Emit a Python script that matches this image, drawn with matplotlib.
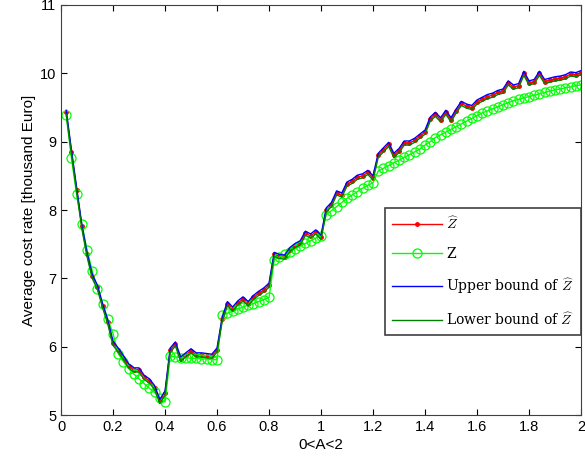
import numpy as np
import matplotlib
matplotlib.use("Agg")
import matplotlib.pyplot as plt

plt.rcParams['font.family'] = ['Liberation Sans', 'DejaVu Sans']
plt.rcParams['mathtext.fontset'] = 'cm'

# A values, 0.02 .. 2.00
a_vals = [round(0.02 * k, 2) for k in range(1, 101)]

# Z (green circles)
z_vals = [9.39, 8.76, 8.23, 7.79, 7.42, 7.11, 6.84, 6.62, 6.40, 6.19,
          5.90, 5.78, 5.68, 5.60, 5.53, 5.46, 5.39, 5.33, 5.25, 5.19,
          5.86, 5.85, 5.84, 5.84, 5.83, 5.83, 5.82, 5.82, 5.81, 5.81,
          6.46, 6.49, 6.52, 6.55, 6.58, 6.61, 6.63, 6.66, 6.69, 6.72,
          7.27, 7.31, 7.35, 7.39, 7.43, 7.47, 7.51, 7.55, 7.59, 7.62,
          7.93, 7.99, 8.05, 8.11, 8.17, 8.22, 8.27, 8.32, 8.36, 8.40,
          8.57, 8.61, 8.65, 8.69, 8.73, 8.77, 8.81, 8.85, 8.89, 8.95,
          9.00, 9.06, 9.10, 9.14, 9.18, 9.22, 9.26, 9.30, 9.34, 9.38,
          9.42, 9.45, 9.48, 9.51, 9.54, 9.57, 9.60, 9.62, 9.64, 9.66,
          9.68, 9.70, 9.72, 9.74, 9.76, 9.77, 9.79, 9.80, 9.82, 9.83]

# Z hat (red dots)
zhat_vals = [9.43, 8.85, 8.30, 7.76, 7.35, 7.03, 6.87, 6.60, 6.36, 6.05,
             5.95, 5.84, 5.72, 5.66, 5.66, 5.55, 5.50, 5.40, 5.20, 5.32,
             5.95, 6.04, 5.82, 5.88, 5.94, 5.88, 5.88, 5.87, 5.86, 5.95,
             6.40, 6.63, 6.55, 6.64, 6.70, 6.63, 6.72, 6.78, 6.83, 6.90,
             7.35, 7.32, 7.31, 7.42, 7.48, 7.52, 7.66, 7.62, 7.68, 7.60,
             8.00, 8.08, 8.25, 8.22, 8.38, 8.42, 8.48, 8.50, 8.55, 8.47,
             8.80, 8.88, 8.96, 8.80, 8.87, 8.98, 8.98, 9.02, 9.08, 9.14,
             9.33, 9.40, 9.32, 9.43, 9.32, 9.45, 9.56, 9.52, 9.50, 9.58,
             9.62, 9.66, 9.68, 9.72, 9.74, 9.86, 9.80, 9.82, 10.00, 9.86,
             9.88, 10.00, 9.88, 9.90, 9.92, 9.93, 9.95, 9.99, 9.98, 10.01]

# upper bound of Z hat (blue)
upper_vals = [9.46, 8.88, 8.33, 7.79, 7.38, 7.06, 6.90, 6.63, 6.39, 6.08,
              5.98, 5.87, 5.75, 5.69, 5.69, 5.58, 5.53, 5.43, 5.23, 5.35,
              5.98, 6.07, 5.85, 5.91, 5.97, 5.91, 5.91, 5.90, 5.89, 5.98,
              6.43, 6.66, 6.58, 6.67, 6.73, 6.66, 6.75, 6.81, 6.86, 6.93,
              7.38, 7.35, 7.34, 7.45, 7.51, 7.55, 7.69, 7.65, 7.71, 7.63,
              8.03, 8.11, 8.28, 8.25, 8.41, 8.45, 8.51, 8.53, 8.58, 8.50,
              8.83, 8.91, 8.99, 8.83, 8.90, 9.01, 9.01, 9.05, 9.11, 9.17,
              9.36, 9.43, 9.35, 9.46, 9.35, 9.48, 9.59, 9.55, 9.53, 9.61,
              9.65, 9.69, 9.71, 9.75, 9.77, 9.89, 9.83, 9.85, 10.03, 9.89,
              9.91, 10.03, 9.91, 9.93, 9.95, 9.96, 9.98, 10.02, 10.01, 10.04]

# lower bound of Z hat (dark green)
lower_vals = [9.40, 8.82, 8.27, 7.73, 7.32, 7.00, 6.84, 6.57, 6.33, 6.02,
              5.92, 5.81, 5.69, 5.63, 5.63, 5.52, 5.47, 5.37, 5.17, 5.29,
              5.92, 6.01, 5.79, 5.85, 5.91, 5.85, 5.85, 5.84, 5.83, 5.92,
              6.37, 6.60, 6.52, 6.61, 6.67, 6.60, 6.69, 6.75, 6.80, 6.87,
              7.32, 7.29, 7.28, 7.39, 7.45, 7.49, 7.63, 7.59, 7.65, 7.57,
              7.97, 8.05, 8.22, 8.19, 8.35, 8.39, 8.45, 8.47, 8.52, 8.44,
              8.77, 8.85, 8.93, 8.77, 8.84, 8.95, 8.95, 8.99, 9.05, 9.11,
              9.30, 9.37, 9.29, 9.40, 9.29, 9.42, 9.53, 9.49, 9.47, 9.55,
              9.59, 9.63, 9.65, 9.69, 9.71, 9.83, 9.77, 9.79, 9.97, 9.83,
              9.85, 9.97, 9.85, 9.87, 9.89, 9.90, 9.92, 9.96, 9.95, 9.98]

x_ticks = [0, 0.2, 0.4, 0.6, 0.8, 1, 1.2, 1.4, 1.6, 1.8, 2]
x_labels = ["0", "0.2", "0.4", "0.6", "0.8", "1", "1.2", "1.4", "1.6", "1.8", "2"]
y_ticks = [5, 6, 7, 8, 9, 10, 11]

fig = plt.figure(figsize=(5.85, 4.67), dpi=100)
ax = fig.add_axes([0.1043, 0.1113, 0.8889, 0.878])

ax.plot(a_vals, zhat_vals, color=(1, 0, 0), marker='.', markersize=5,
        linewidth=1, label=r'$\widehat{Z}$')
ax.plot(a_vals, z_vals, color=(0, 1, 0), marker='o', markersize=6.5,
        markerfacecolor='none', markeredgewidth=0.9, linewidth=1, label='Z')
ax.plot(a_vals, upper_vals, color=(0, 0, 1), linewidth=1,
        label=r'Upper bound of $\widehat{Z}$')
ax.plot(a_vals, lower_vals, color=(0, 0.5, 0), linewidth=1,
        label=r'Lower bound of $\widehat{Z}$')

ax.set_xlim(0, 2)
ax.set_ylim(5, 11)
ax.set_xticks(x_ticks)
ax.set_xticklabels(x_labels)
ax.set_yticks(y_ticks)
ax.tick_params(direction='in', top=True, right=True, length=4, labelsize=10.5)
for s in ax.spines.values():
    s.set_color('#404040')
ax.set_xlabel('0<A<2', fontsize=11, labelpad=3)
ax.set_ylabel('Average cost rate [thousand Euro]', fontsize=11, labelpad=3)

leg = ax.legend(loc='upper right', bbox_to_anchor=(1.0, 0.505),
                prop={'family': 'DejaVu Serif', 'size': 10},
                handlelength=3.6, handletextpad=0.3, labelspacing=1.1,
                borderpad=0.5, fancybox=False, framealpha=1, borderaxespad=0)
leg.get_frame().set_edgecolor('#404040')
leg.get_frame().set_linewidth(1.2)

fig.savefig('out.png', dpi=100)
